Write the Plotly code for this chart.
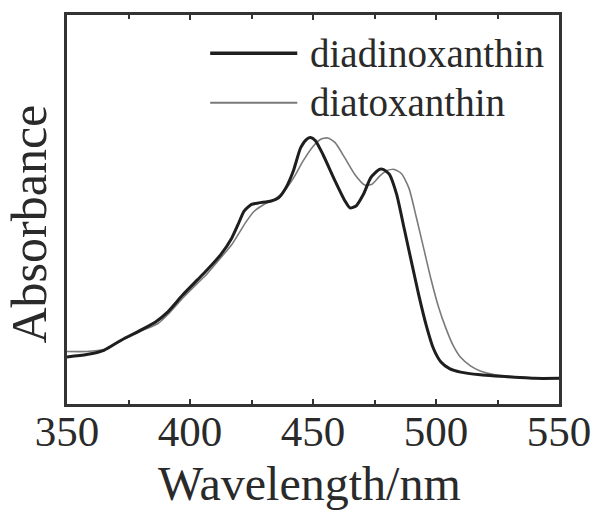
import plotly.graph_objects as go

# Diadinoxanthin (thick black)
wl_dd = [350, 358, 365, 372, 380, 386, 391, 397, 403, 407, 412.5, 417, 419.5, 422, 425, 428, 433, 436,
         439, 442, 445, 447.5, 449, 451, 454, 459, 463, 465, 467.5, 470.5, 473.5, 477, 478.5, 481,
         484, 487, 490, 493, 496, 499, 502, 505.5, 510, 518, 524, 532, 540, 550]
ab_dd = [0.121, 0.127, 0.138, 0.164, 0.190, 0.211, 0.237, 0.280, 0.319, 0.345, 0.384, 0.427, 0.461,
         0.496, 0.513, 0.517, 0.522, 0.530, 0.556, 0.599, 0.659, 0.681, 0.685, 0.677, 0.642, 0.573,
         0.522, 0.504, 0.509, 0.539, 0.582, 0.603, 0.603, 0.591, 0.539, 0.453, 0.366, 0.280, 0.203,
         0.142, 0.108, 0.091, 0.082, 0.075, 0.072, 0.069, 0.066, 0.066]

# Diatoxanthin (thin grey)
wl_dt = [350, 358, 365, 372, 380, 387, 391, 397, 403, 407, 412, 417, 420, 423, 426, 430, 434, 438,
         442, 446, 450, 453, 456, 459, 463, 467, 471, 474, 477, 480, 483, 486, 489, 492, 495, 498,
         501, 504, 507, 510, 514, 518, 524, 532, 540, 550]
ab_dt = [0.135, 0.135, 0.140, 0.162, 0.187, 0.207, 0.230, 0.272, 0.310, 0.335, 0.372, 0.410, 0.440,
         0.470, 0.495, 0.513, 0.525, 0.545, 0.580, 0.625, 0.662, 0.680, 0.684, 0.672, 0.632, 0.590,
         0.563, 0.565, 0.585, 0.600, 0.603, 0.592, 0.555, 0.480, 0.400, 0.320, 0.250, 0.195, 0.150,
         0.120, 0.098, 0.085, 0.075, 0.070, 0.067, 0.066]

x_ticks = [350, 400, 450, 500, 550]
names = ["diadinoxanthin", "diatoxanthin"]

FONT = "Liberation Serif, Times New Roman, serif"
BLACK = "#1e1e1e"
GREY = "#7a7a7a"
TXT = "#2a2a2a"

fig = go.Figure()
fig.add_trace(go.Scatter(x=wl_dt, y=ab_dt, mode="lines", name=names[1],
                         line=dict(color=GREY, width=1.6, shape="spline", smoothing=0.6)))
fig.add_trace(go.Scatter(x=wl_dd, y=ab_dd, mode="lines", name=names[0],
                         line=dict(color=BLACK, width=3, shape="spline", smoothing=0.6)))

# manual legend (long line samples)
for yy, col, w, nm in [(0.9015, BLACK, 3.5, names[0]), (0.7746, GREY, 2, names[1])]:
    fig.add_shape(type="line", xref="paper", yref="paper", x0=0.291, x1=0.468, y0=yy, y1=yy,
                  line=dict(color=col, width=w))
    fig.add_annotation(xref="paper", yref="paper", x=0.49, y=yy, text=nm, showarrow=False,
                       xanchor="left", yanchor="middle", font=dict(family=FONT, size=39, color=TXT))

fig.add_annotation(xref="paper", yref="paper", x=-0.078, y=0.463, text="Absorbance", textangle=-90,
                   showarrow=False, xanchor="center", yanchor="middle",
                   font=dict(family=FONT, size=50, color=TXT))
fig.add_annotation(xref="paper", yref="paper", x=0.493, y=-0.205, text="Wavelength/nm",
                   showarrow=False, xanchor="center", yanchor="middle",
                   font=dict(family=FONT, size=48, color=TXT))

fig.update_layout(
    width=603, height=512,
    margin=dict(l=67, r=38, t=15, b=108),
    paper_bgcolor="white", plot_bgcolor="white",
    showlegend=False,
    font=dict(family=FONT, color=TXT),
)
fig.update_xaxes(range=[350, 550], tickvals=x_ticks, ticks="inside", ticklen=5, tickwidth=2,
                 tickcolor="#333", showline=True, linecolor="#333", linewidth=2.5, mirror="ticks",
                 showgrid=False, zeroline=False, tickfont=dict(family=FONT, size=43, color=TXT),
                 ticklabelstandoff=-12,
                 minor=dict(tickvals=[375, 425, 475, 525], ticks="inside", ticklen=4, tickwidth=2,
                            tickcolor="#333"))
fig.update_yaxes(range=[0, 1], showline=True, linecolor="#333", linewidth=2.5, mirror=True,
                 ticks="", showticklabels=False, showgrid=False, zeroline=False)

fig.write_html("out.html")
